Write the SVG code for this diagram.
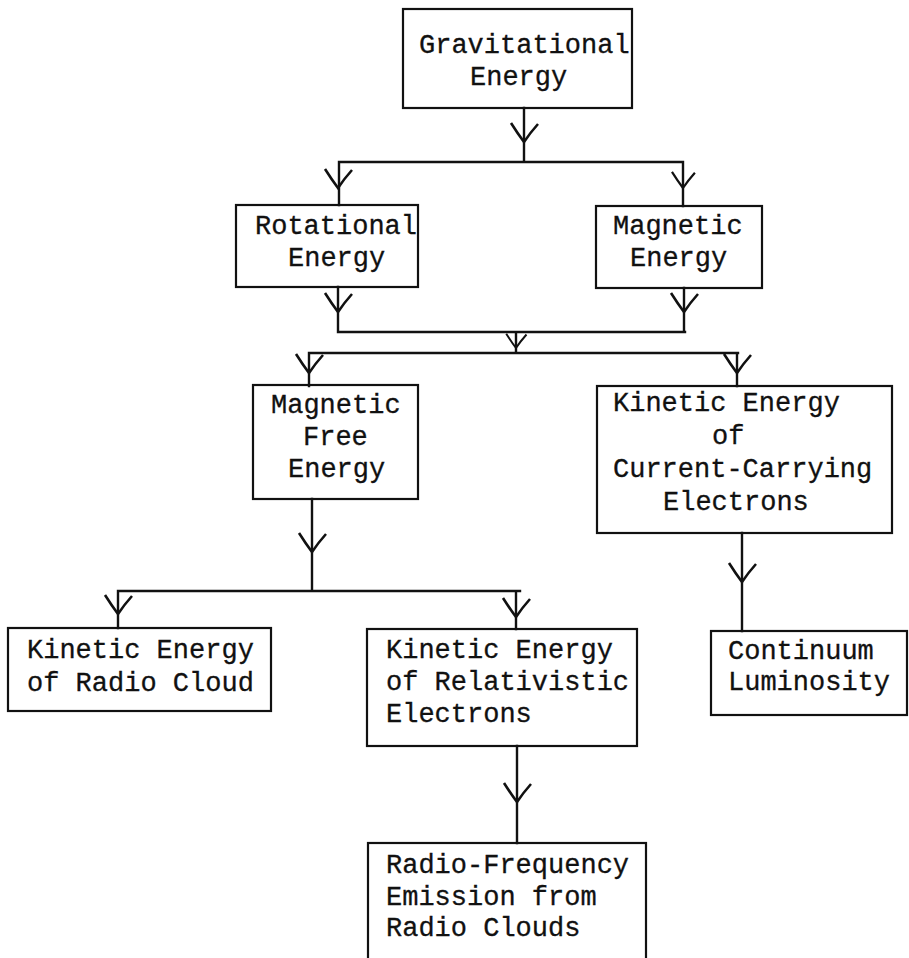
<svg xmlns="http://www.w3.org/2000/svg" xmlns:xlink="http://www.w3.org/1999/xlink" width="909" height="958" viewBox="0 0 909 958">
<style>
  .box{fill:none;stroke:#111;stroke-width:2.2}
  .t{font-family:"Liberation Mono","Courier New",monospace;font-size:27px;fill:#111;stroke:#111;stroke-width:0.3}
  .ln{fill:none;stroke:#111;stroke-width:2.4;stroke-linecap:square}
  .v{fill:none;stroke:#111;stroke-width:2.6;stroke-linejoin:miter}
</style>
<defs>
  <path id="v" d="M-13,-19 Q-6,-8 0,0 Q6,-9 14,-18"/>
</defs>
<rect width="909" height="958" fill="#fff"/>
<g id="connectors">
  <path class="ln" d="M524,108 V162 M339,162 H683 M339,162 V205 M683,162 V206"/>
  <path class="ln" d="M338,287 V332 M684,288 V332 M338,332 H685 M516,332 V353 M309,353 H738 M309,353 V386 M737,353 V386"/>
  <path class="ln" d="M312,499 V591 M118,591 H520 M118,591 V628 M516,591 V629"/>
  <path class="ln" d="M517,746 V843 M742,533 V631"/>
  <g class="v">
    <use xlink:href="#v" x="524" y="142"/>
    <use xlink:href="#v" x="338" y="188"/>
    <use xlink:href="#v" x="683" y="188" transform="translate(683 188) scale(0.85) translate(-683 -188)"/>
    <use xlink:href="#v" x="338" y="312"/>
    <use xlink:href="#v" x="684" y="312"/>
    <use xlink:href="#v" x="516" y="348" transform="translate(516 348) scale(0.75) translate(-516 -348)"/>
    <use xlink:href="#v" x="309" y="373"/>
    <use xlink:href="#v" x="737" y="373"/>
    <use xlink:href="#v" x="312" y="552"/>
    <use xlink:href="#v" x="118" y="614"/>
    <use xlink:href="#v" x="516" y="617"/>
    <use xlink:href="#v" x="517" y="802"/>
    <use xlink:href="#v" x="742" y="582"/>
  </g>
</g>
<g id="gravitational">
  <rect class="box" x="403" y="9" width="229" height="99"/>
  <text class="t" x="419" y="53">Gravitational</text>
  <text class="t" x="470" y="85">Energy</text>
</g>
<g id="rotational">
  <rect class="box" x="236" y="205" width="182" height="82"/>
  <text class="t" x="255" y="234">Rotational</text>
  <text class="t" x="288" y="266">Energy</text>
</g>
<g id="magnetic">
  <rect class="box" x="596" y="206" width="166" height="82"/>
  <text class="t" x="613" y="234">Magnetic</text>
  <text class="t" x="630" y="266">Energy</text>
</g>
<g id="magnetic-free">
  <rect class="box" x="253" y="385" width="165" height="114"/>
  <text class="t" x="271" y="413">Magnetic</text>
  <text class="t" x="303" y="445">Free</text>
  <text class="t" x="288" y="477">Energy</text>
</g>
<g id="current-electrons">
  <rect class="box" x="597" y="386" width="295" height="147"/>
  <text class="t" x="613" y="411">Kinetic Energy</text>
  <text class="t" x="712" y="444">of</text>
  <text class="t" x="613" y="477">Current-Carrying</text>
  <text class="t" x="663" y="510">Electrons</text>
</g>
<g id="radio-cloud">
  <rect class="box" x="8" y="628" width="263" height="83"/>
  <text class="t" x="27" y="658">Kinetic Energy</text>
  <text class="t" x="27" y="691">of Radio Cloud</text>
</g>
<g id="relativistic">
  <rect class="box" x="367" y="629" width="270" height="117"/>
  <text class="t" x="386" y="658">Kinetic Energy</text>
  <text class="t" x="386" y="690">of Relativistic</text>
  <text class="t" x="386" y="722">Electrons</text>
</g>
<g id="continuum">
  <rect class="box" x="711" y="631" width="196" height="84"/>
  <text class="t" x="728" y="659">Continuum</text>
  <text class="t" x="728" y="690">Luminosity</text>
</g>
<g id="radio-emission">
  <rect class="box" x="368" y="843" width="278" height="130"/>
  <text class="t" x="386" y="873">Radio-Frequency</text>
  <text class="t" x="386" y="905">Emission from</text>
  <text class="t" x="386" y="936">Radio Clouds</text>
</g>
</svg>
